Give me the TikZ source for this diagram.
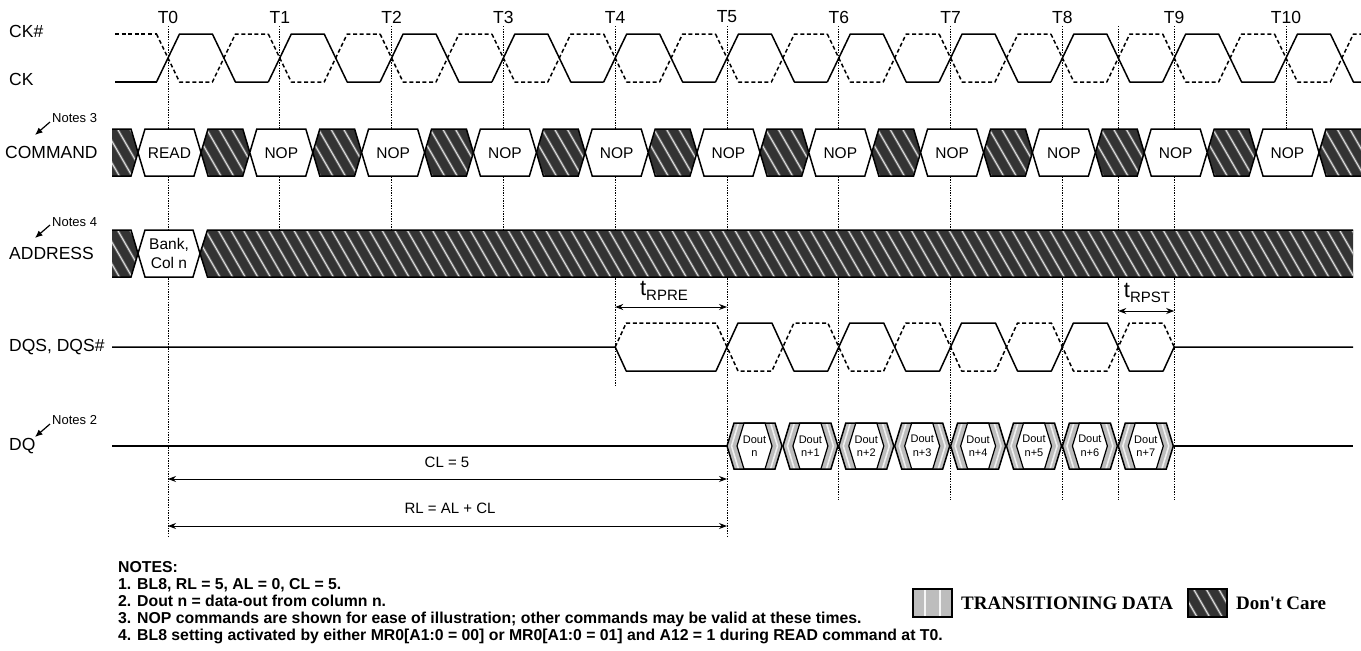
\documentclass[tikz,border=0pt]{standalone}
\usepackage{fontspec}
\setmainfont{Liberation Sans}
\newfontfamily\legendfont{Liberation Serif}
\usetikzlibrary{arrows.meta}
\definecolor{dcdark}{HTML}{333333}
\definecolor{stripeglow}{HTML}{6E6E6E}
\definecolor{stripecore}{HTML}{E2E2E2}
\definecolor{transgray}{HTML}{BDBDBD}
\newcommand{\dcarea}[4]{%
  \begin{scope}
    \clip #4;
    \fill[dcdark] #4;
    \pgfmathsetmacro\dcsa{#1-34}%
    \pgfmathsetmacro\dcsb{#1-34+12.6}%
    \pgfmathsetmacro\dcse{#2+2}%
    \foreach \s in {\dcsa,\dcsb,...,\dcse} {
      \draw[line width=2.6pt, stripeglow] (\s,#3-3) -- ++(30.5,53);
      \draw[line width=0.9pt, stripecore] (\s,#3-3) -- ++(30.5,53);
    }
  \end{scope}}
\begin{document}
\begin{tikzpicture}[x=1pt,y=-1pt,
  sig/.style={line width=1.5pt, line join=round},
  sigd/.style={sig, dash pattern=on 4pt off 2.6pt},
  tline/.style={line width=0.8pt, dash pattern=on 1.3pt off 1.3pt},
  bus/.style={line width=1.5pt, line join=miter},
  lbl/.style={font=\fontsize{17.5}{19}\selectfont, anchor=west, inner sep=0pt},
  tlbl/.style={font=\fontsize{17.5}{19}\selectfont, inner sep=0pt},
  hextxt/.style={font=\fontsize{15.5}{19}\selectfont, inner sep=0pt, align=center},
  doutxt/.style={font=\fontsize{11}{13.5}\selectfont, inner sep=0pt, align=center},
  notelbl/.style={font=\fontsize{13}{15}\selectfont, anchor=west, inner sep=0pt},
  notearrow/.style={line width=1.2pt, -{Latex[length=7.5pt,width=6.5pt]}},
  dim/.style={line width=1pt, {Stealth[length=8pt,width=6pt]}-{Stealth[length=8pt,width=6pt]}},
  notetxt/.style={font=\bfseries\fontsize{15.8}{17}\selectfont, anchor=base west, inner sep=0pt},
  legtxt/.style={font=\legendfont\bfseries\fontsize{19}{21}\selectfont, anchor=base west, inner sep=0pt}]
\useasboundingbox[fill=white] (0,0) rectangle (1361,651);

% ---------- time reference lines ----------
\foreach \n/\yb in {0/537,1/230,2/230,3/230,4/385,5/537,6/500,7/500,8/500,9/500,10/129} {
  \pgfmathsetmacro\tx{168+111.8*\n}
  \draw[tline] (\tx,26) -- (\tx,\yb);
  \node[tlbl] (T\n) at (\tx,17) {T\n};
}
\coordinate (Thalf) at (1118.3,26);
\draw[tline] (Thalf) -- (1118.3,500);

% ---------- signal labels ----------
\node[lbl] (lckb) at (9,31) {CK\#};
\node[lbl] (lck) at (9,79) {CK};
\node[lbl] (lcmd) at (5,152.5) {COMMAND};
\node[lbl] (ladr) at (9,253.5) {ADDRESS};
\node[lbl] (ldqs) at (9,347) {DQS, DQS\#};
\node[lbl] (ldq) at (9,446) {DQ};
\node[notelbl] (n3) at (52,118) {Notes 3};
\node[notelbl] (n4) at (52,222) {Notes 4};
\node[notelbl] (n2) at (52,420) {Notes 2};
\coordinate (n3t) at (35,135);
\coordinate (n4t) at (35,238);
\coordinate (n2t) at (35,437);
\draw[notearrow] (50,122) -- (n3t);
\draw[notearrow] (50,225) -- (n4t);
\draw[notearrow] (50,424) -- (n2t);

% ---------- clocks ----------
\draw[sig] (115,82) -- (156.5,82);
\draw[sigd] (115,34) -- (156.5,34);
\foreach \m in {0,...,10} {
  \pgfmathsetmacro\tx{168+111.8*\m}
  \draw[sig] (\tx-11.5,82) -- (\tx+11.5,34) -- (\tx+44.4,34) -- (\tx+67.4,82) -- (\tx+100.3,82);
  \draw[sigd] (\tx-11.5,34) -- (\tx+11.5,82) -- (\tx+44.4,82) -- (\tx+67.4,34) -- (\tx+100.3,34);
}

% ---------- COMMAND bus ----------
\dcarea{112}{138}{129}{(112,129) -- (131,129) -- (138,152.5) -- (131,176) -- (112,176) -- cycle}
\draw[bus] (112,129) -- (131,129) -- (138,152.5) -- (131,176) -- (112,176);
\foreach \n in {0,...,10} {
  \pgfmathsetmacro\c{169.5+111.8*\n}
  \pgfmathsetmacro\L{\c-31.5}
  \pgfmathsetmacro\R{\c+31.5}
  \pgfmathsetmacro\Ln{\c+111.8-31.5}
  \ifnum\n<10
    \dcarea{\R}{\Ln}{129}{(\R,152.5) -- (\R+7,129) -- (\Ln-7,129) -- (\Ln,152.5) -- (\Ln-7,176) -- (\R+7,176) -- cycle}
    \draw[bus] (\R,152.5) -- (\R+7,129) -- (\Ln-7,129) -- (\Ln,152.5) -- (\Ln-7,176) -- (\R+7,176) -- cycle;
  \fi
  \draw[bus, fill=white] (\L,152.5) -- (\L+7,129) -- (\R-7,129) -- (\R,152.5) -- (\R-7,176) -- (\L+7,176) -- cycle;
  \node[hextxt] (cmd\n) at (\c,153) {\ifnum\n=0 READ\else NOP\fi};
}
\dcarea{1319}{1362}{129}{(1319,152.5) -- (1326,129) -- (1365,129) -- (1365,176) -- (1326,176) -- cycle}
\draw[bus] (1365,129) -- (1326,129) -- (1319,152.5) -- (1326,176) -- (1365,176);

% ---------- ADDRESS bus ----------
\dcarea{112}{138}{230}{(112,230) -- (131,230) -- (138,253.5) -- (131,277) -- (112,277) -- cycle}
\draw[bus] (112,230) -- (131,230) -- (138,253.5) -- (131,277) -- (112,277);
\dcarea{200}{1353}{230}{(200,253.5) -- (207.5,230) -- (1353,230) -- (1353,277) -- (207.5,277) -- cycle}
\draw[bus] (1353,230) -- (207.5,230) -- (200,253.5) -- (207.5,277) -- (1353,277);
\draw[bus, fill=white] (138,253.5) -- (145,230) -- (193,230) -- (200,253.5) -- (193,277) -- (145,277) -- cycle;
\node[hextxt] (bank) at (169,253.5) {Bank,\\Col n};

% ---------- DQS ----------
\draw[sig] (112,347) -- (615.2,347) -- (626.2,371) -- (716,371) -- (738,323) -- (771.9,323) -- (793.9,371) -- (827.8,371) -- (849.8,323) -- (883.7,323) -- (905.7,371) -- (939.6,371) -- (961.6,323) -- (995.5,323) -- (1017.5,371) -- (1051.4,371) -- (1073.4,323) -- (1107.3,323) -- (1129.3,371) -- (1163.2,371) -- (1174.2,347) -- (1353,347);
\draw[sigd] (615.2,347) -- (626.2,323) -- (716,323) -- (738,371) -- (771.9,371) -- (793.9,323) -- (827.8,323) -- (849.8,371) -- (883.7,371) -- (905.7,323) -- (939.6,323) -- (961.6,371) -- (995.5,371) -- (1017.5,323) -- (1051.4,323) -- (1073.4,371) -- (1107.3,371) -- (1129.3,323) -- (1163.2,323) -- (1174.2,347);

% tRPRE / tRPST
\coordinate (rpreA) at (615.2,307);
\coordinate (rpreB) at (727,307);
\draw[dim] (rpreA) -- (rpreB);
\node[inner sep=0pt] (rpre) at (664,291) {{\fontsize{22}{24}\selectfont t}\raisebox{-4.5pt}{\fontsize{15}{16}\selectfont RPRE}};
\coordinate (rpstA) at (1118.3,311);
\coordinate (rpstB) at (1174.2,311);
\draw[dim] (rpstA) -- (rpstB);
\node[inner sep=0pt] (rpst) at (1147,293) {{\fontsize{22}{24}\selectfont t}\raisebox{-4.5pt}{\fontsize{15}{16}\selectfont RPST}};

% ---------- DQ ----------
\draw[sig] (112,446) -- (727,446);
\draw[sig] (1173.5,446) -- (1353,446);
\foreach \k in {0,...,7} {
  \pgfmathsetmacro\s{727+55.9*\k}
  \fill[transgray] (\s,446) -- (\s+7,423) -- (\s+48,423) -- (\s+55,446) -- (\s+48,469) -- (\s+7,469) -- cycle;
  \draw[line width=1.6pt, white!88!gray] (\s+11.5,423) -- (\s+4.5,446) -- (\s+11.5,469);
  \draw[line width=1.6pt, white!88!gray] (\s+43.5,423) -- (\s+50.5,446) -- (\s+43.5,469);
  \draw[line width=1.2pt, fill=white, line join=miter] (\s+10,446) -- (\s+17,423) -- (\s+38,423) -- (\s+45,446) -- (\s+38,469) -- (\s+17,469) -- cycle;
  \draw[bus] (\s,446) -- (\s+7,423) -- (\s+48,423) -- (\s+55,446) -- (\s+48,469) -- (\s+7,469) -- cycle;
  \node[doutxt] (dout\k) at (\s+27.5,446) {Dout\\\ifnum\k=0 n\else n+\k\fi};
}

% ---------- latency dimensions ----------
\coordinate (clA) at (168,479);
\coordinate (clB) at (727,479);
\draw[dim] (clA) -- (clB);
\node[font=\fontsize{15}{17}\selectfont, inner sep=0pt] (cl) at (447,462) {CL = 5};
\coordinate (rlA) at (168,526);
\coordinate (rlB) at (727,526);
\draw[dim] (rlA) -- (rlB);
\node[font=\fontsize{15}{17}\selectfont, inner sep=0pt] (rl) at (450,508) {RL = AL + CL};

% ---------- notes ----------
\node[notetxt] (nt0) at (118,572) {NOTES:};
\node[notetxt] (nt1) at (118,589) {1. BL8, RL = 5, AL = 0, CL = 5.};
\node[notetxt] (nt2) at (118,606) {2. Dout n = data-out from column n.};
\node[notetxt] (nt3) at (118,623) {3. NOP commands are shown for ease of illustration; other commands may be valid at these times.};
\node[notetxt] (nt4) at (118,640) {4. BL8 setting activated by either MR0[A1:0 = 00] or MR0[A1:0 = 01] and A12 = 1 during READ command at T0.};

% ---------- legend ----------
\fill[transgray] (913,589) rectangle (952,617);
\draw[line width=2pt, white!92!gray] (925,589) -- (925,617);
\draw[line width=2pt, white!92!gray] (940,589) -- (940,617);
\draw[line width=1.2pt] (913,589) rectangle (952,617);
\node[legtxt] (legt) at (961,609) {TRANSITIONING DATA};
\dcarea{1188}{1227}{589}{(1188,589) rectangle (1227,617)}
\draw[line width=1.2pt] (1188,589) rectangle (1227,617);
\node[legtxt] (legd) at (1236,609) {Don't Care};
\end{tikzpicture}
\end{document}
